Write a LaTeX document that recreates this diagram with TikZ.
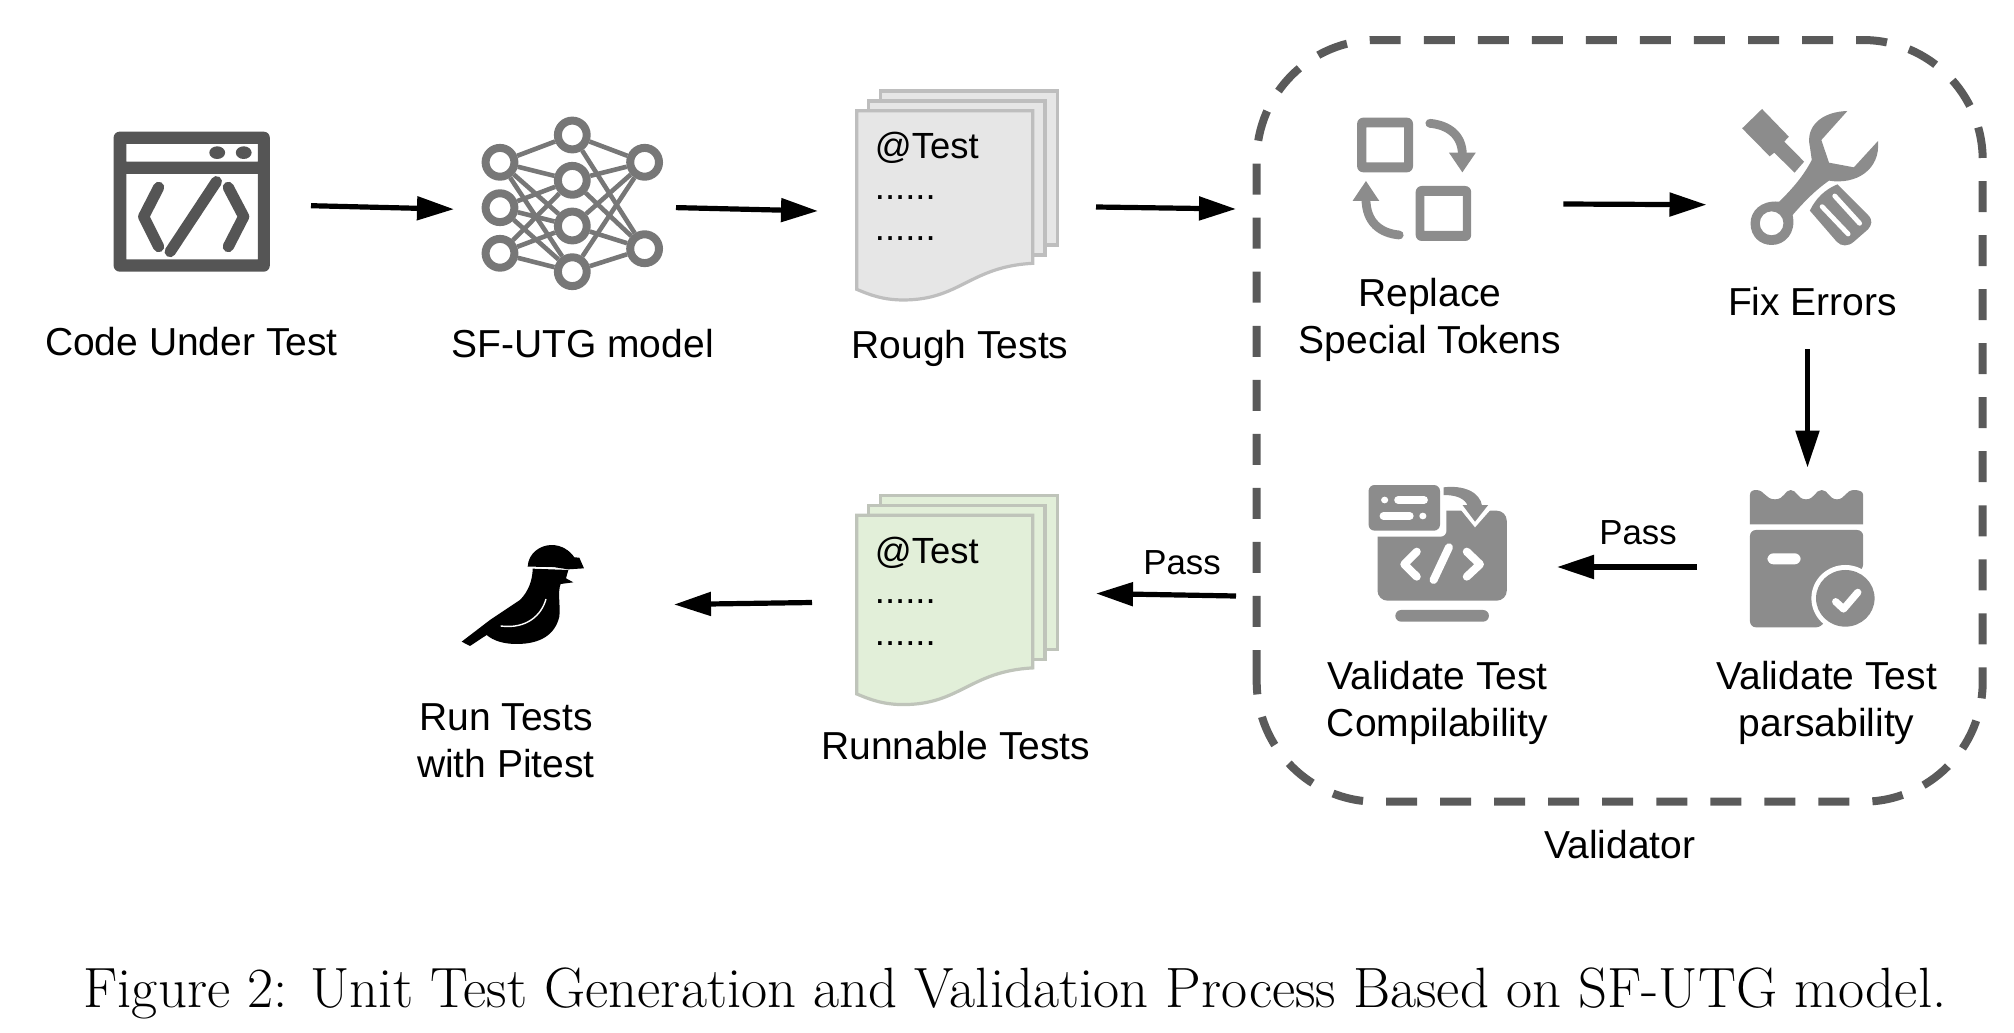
\documentclass[tikz,border=0pt]{standalone}
\usepackage{fontspec}
\setmainfont{Liberation Sans}
\newfontfamily\capfont{Latin Modern Roman}
\usetikzlibrary{arrows.meta,fit}
\definecolor{icondark}{HTML}{555555}
\definecolor{nngray}{HTML}{777777}
\definecolor{icongray}{HTML}{8C8C8C}
\definecolor{dashgray}{HTML}{5A5A5A}
\definecolor{pagegray}{HTML}{E6E6E6}
\definecolor{pageedge}{HTML}{BEBEBE}
\definecolor{pagegreen}{HTML}{E2EFD9}
\definecolor{pageedgeg}{HTML}{BFC4BA}
\tikzset{
  x=0.5pt,y=-0.5pt,
  port/.style={inner sep=0pt,outer sep=0pt,draw=none},
  flow/.style={line width=2.6pt,draw=black,-{Triangle[length=18.5pt,width=11.5pt]}},
  lab/.style={font=\fontsize{19.5}{23.5}\selectfont,align=center,inner sep=0pt,text=black},
  passlab/.style={font=\fontsize{17.4}{21}\selectfont,inner sep=0pt,text=black},
  doclab/.style={font=\fontsize{18.2}{22}\selectfont,anchor=base west,inner sep=0pt},
  neuron/.style={circle,draw=nngray,line width=4pt,minimum size=14.4pt,inner sep=0pt,fill=white},
  syn/.style={draw=nngray,line width=2.3pt},
  zoomA/.style={shift={(80,90)},xscale=0.3954,yscale=0.3333},
  zoomC/.style={shift={(1320,90)},xscale=0.3827,yscale=0.3333},
  zoomD/.style={shift={(1340,470)},xscale=0.3571,yscale=0.3333},
  third/.style={xscale=0.3333,yscale=0.3333},
}
\newcommand{\pagestack}[3]{%
  \begin{scope}[shift={(820,#1)},third,draw=#3,fill=#2,line width=1.6pt,line join=miter]
    \filldraw (182,63) rectangle (712,525);
    \filldraw (145,93) rectangle (675,555);
    \filldraw (110,122) -- (638,122) -- (638,580) .. controls (450,590) and (420,690) .. (250,690) .. controls (190,690) and (150,675) .. (110,658) -- cycle;
  \end{scope}}
\begin{document}
\begin{tikzpicture}
\useasboundingbox (0,0) rectangle (2014,1033);

% connection boxes round the icons
\node[port,fit={(113,140)(311,271.4)}] (code) {};
\node[port,fit={(454,120)(676,295.2)}] (nn) {};
\node[port,fit={(818,90)(1096,328)}] (rough) {};
\node[port,fit={(1350,110)(1563.4,298)}] (replace) {};
\node[port,fit={(1706.5,60)(1908.5,349.4)}] (fix) {};
\node[port,fit={(1697,467.6)(1918,666.4)}] (parse) {};
\node[port,fit={(1350,480)(1557,654)}] (compile) {};
\node[port,fit={(812,490)(1096,706)}] (runnable) {};
\node[port,fit={(460,530)(674,679)}] (bird) {};

% validator
\node[port,fit={(1256.7,40)(1982.7,801.7)}] (validator) {};
\draw[dashgray,line width=4pt,rounded corners=60pt,dash pattern=on 15.5pt off 11.52pt]
  ([yshift=-130.08pt]validator.west) -- (validator.north west) -- (validator.north east) -- (validator.south east) -- (validator.south west) -- ([yshift=-130.08pt]validator.west);
\coordinate (valin) at (1236,209);
\coordinate (valout) at (1236,596);

% code window icon
\begin{scope}[zoomA]
  \fill[icondark,rounded corners=3pt,even odd rule] (85,125) rectangle (480,545)
     (117,162) [sharp corners] rectangle (450,215) (117,252) rectangle (450,508);
  \fill[icondark] (347,188) ellipse (20 and 19) (414,188) ellipse (20 and 19);
  \draw[icondark,line width=5.6pt,line cap=round,line join=round] (199,292) -- (161,380) -- (199,470);
  \draw[icondark,line width=5.6pt,line cap=round,line join=round] (375,292) -- (414,380) -- (375,470);
  \draw[icondark,line width=5.6pt,line cap=round] (345,275) -- (228,485);
\end{scope}

% neural network icon
\node[neuron] (l1) at (500,162.3) {};
\node[neuron] (l2) at (500,207.7) {};
\node[neuron] (l3) at (500,253.3) {};
\node[neuron] (m1) at (572.3,135) {};
\node[neuron] (m2) at (572.3,180.3) {};
\node[neuron] (m3) at (572.3,226) {};
\node[neuron] (m4) at (572.3,271.7) {};
\node[neuron] (r1) at (644.6,162.3) {};
\node[neuron] (r2) at (644.6,248.7) {};
\foreach \a/\b in {l1/m1,l1/m2,l1/m3,l1/m4,l2/m2,l2/m3,l2/m4,l3/m2,l3/m3,l3/m4}{\draw[syn] (\a) -- (\b);}
\foreach \a in {m1,m2,m3,m4}\foreach \b in {r1,r2}{\draw[syn] (\a) -- (\b);}

% rough tests
\pagestack{70}{pagegray}{pageedge}
\node[doclab] (t1a) at (874.5,158.5) {@Test};
\node[doclab] (t1b) at (874.5,199) {......};
\node[doclab] (t1c) at (874.5,240.5) {......};

% replace icon
\begin{scope}[zoomC,icongray]
  \fill[rounded corners=3pt,even odd rule] (97,83) rectangle (243,247) (121,112) [sharp corners] rectangle (220,217);
  \fill[rounded corners=3pt,even odd rule] (250,288) rectangle (395,453) (273,318) [sharp corners] rectangle (373,423);
  \draw[line width=4.4pt,line cap=round] (287,100) .. controls (335,105) and (372,135) .. (372,195);
  \fill (337,188) -- (407,188) -- (372,247) -- cycle;
  \draw[line width=4.4pt,line cap=round] (207,435) .. controls (160,430) and (120,400) .. (120,325);
  \fill (85,333) -- (155,333) -- (120,273) -- cycle;
\end{scope}

% tools icon
\begin{scope}[zoomC,icongray]
  \fill (1155,57) -- (1225,140) -- (1213,155) -- (1265,215) -- (1240,248) -- (1187,188) -- (1175,199) -- (1103,115) -- cycle;
  \fill[even odd rule] (1378,63) .. controls (1310,65) and (1268,110) .. (1280,170) -- (1285,210) .. controls (1262,260) and (1235,295) .. (1200,335) .. controls (1150,330) and (1125,365) .. (1125,400) .. controls (1125,440) and (1150,465) .. (1180,465) .. controls (1215,465) and (1245,430) .. (1235,375) .. controls (1265,335) and (1295,300) .. (1330,272) .. controls (1400,285) and (1465,240) .. (1458,153) -- (1395,232) -- (1330,218) -- (1310,150) -- cycle
    (1180,400) ellipse (31 and 36);
  \fill (1352,283) -- (1432,375) .. controls (1445,390) and (1442,405) .. (1432,418) -- (1395,455) .. controls (1380,470) and (1362,470) .. (1350,455) -- (1280,362) .. controls (1295,325) and (1320,298) .. (1352,283) -- cycle;
  \draw[white,line width=2.4pt,line cap=round] (1345,318) -- (1410,400);
  \draw[white,line width=2.4pt,line cap=round] (1312,350) -- (1380,432);
\end{scope}

% compile icon
\begin{scope}[zoomD,icongray]
  \fill[rounded corners=5pt] (105,122) rectangle (467,392);
  \fill[white,rounded corners=3pt] (60,90) rectangle (298,200);
  \fill[white] (335,115) -- (378,172) -- (425,115) -- cycle;
  \fill[rounded corners=3pt] (80,45) rectangle (280,182);
  \fill[white] (125,90) circle (10) (232,138) circle (10);
  \draw[white,line width=4pt,line cap=round] (163,90) -- (235,90) (122,138) -- (195,138);
  \draw[white,line width=4pt,line cap=round,line join=round] (215,245) -- (180,283) -- (215,320);
  \draw[white,line width=4pt,line cap=round] (305,232) -- (262,330);
  \draw[white,line width=4pt,line cap=round,line join=round] (355,245) -- (392,283) -- (355,320);
  \fill[rounded corners=2.9pt] (155,420) rectangle (417,455);
  \fill (290,52) .. controls (345,45) and (392,65) .. (398,108) -- (358,108) .. controls (350,85) and (325,75) .. (290,75) -- cycle;
  \fill (343,105) -- (415,105) -- (378,155) -- cycle;
\end{scope}

% parsability icon
\begin{scope}[zoomD,icongray]
  \fill (1148,163) -- (1148,75) .. controls (1148,65) and (1155,60) .. (1165,60) .. controls (1190,60) and (1190,88) .. (1218,88) .. controls (1245,88) and (1245,60) .. (1262,60) .. controls (1280,60) and (1280,88) .. (1305,88) .. controls (1330,88) and (1330,60) .. (1349,60) .. controls (1368,60) and (1368,88) .. (1392,88) .. controls (1415,88) and (1415,60) .. (1440,60) .. controls (1455,60) and (1465,65) .. (1465,75) -- (1465,163) -- cycle;
  \fill[rounded corners=3pt] (1148,180) -- (1465,180) -- (1465,300) -- (1400,330) -- (1350,472) -- (1148,472) -- cycle;
  \fill[white] (1415,385) ellipse (95 and 100);
  \fill (1415,385) ellipse (82 and 85);
  \draw[white,line width=3.6pt,line cap=round,line join=round] (1388,395) -- (1410,417) -- (1450,367);
  \fill[white,rounded corners=3pt] (1197,250) rectangle (1290,283);
\end{scope}

% runnable tests
\pagestack{474.6}{pagegreen}{pageedgeg}
\node[doclab] (t2a) at (874.5,563) {@Test};
\node[doclab] (t2b) at (874.5,603.5) {......};
\node[doclab] (t2c) at (874.5,645) {......};

% bird icon
\begin{scope}[shift={(440,520)},third]
  \fill[black] (263,140) .. controls (265,100) and (300,75) .. (335,75) .. controls (365,75) and (390,92) .. (403,112) -- (418,113) -- (432,145) -- (385,148) -- (345,142) -- (280,140) -- cycle;
  \fill[black] (278,146) -- (385,150) -- (378,175) -- (400,187) -- (362,192) .. controls (352,215) and (362,260) .. (358,290) .. controls (345,345) and (300,372) .. (230,372) .. controls (190,372) and (160,362) .. (140,345) -- (90,378) -- (65,365) -- (150,300) -- (240,240) .. controls (265,215) and (278,180) .. (278,146) -- cycle;
  \draw[white,line width=0.6pt] (285,143) -- (345,144);
  \draw[white,line width=0.7pt] (318,237) .. controls (305,285) and (260,328) .. (182,318);
\end{scope}

% connectors
\draw[flow] (code.east) -- ([yshift=-0.8pt]nn.west);
\draw[flow] (nn.east) -- ([yshift=-1pt]rough.west);
\draw[flow] ([yshift=1pt]rough.east) -- (valin);
\draw[flow] (replace.east) -- (fix.west);
\draw[flow] (fix.south) -- (parse.north);
\draw[flow] (parse.west) -- (compile.east);
\draw[flow] (valout) -- ([yshift=2.25pt]runnable.east);
\draw[flow] ([yshift=-2.25pt]runnable.west) -- (bird.east);

% labels
\node[lab] (l-code) at (191.4,342) {Code Under Test};
\node[lab] (l-nn) at (582.6,344) {SF-UTG model};
\node[lab] (l-rough) at (960,348) {Rough Tests};
\node[lab] (l-replace) at (1430,320) {Replace\\Special Tokens};
\node[lab] (l-fix) at (1812.6,302) {Fix Errors};
\node[lab] (l-parse) at (1826.7,702.5) {Validate Test\\parsability};
\node[lab] (l-compile) at (1437.5,702.5) {Validate Test\\Compilability};
\node[passlab] (l-pass1) at (1638,533) {Pass};
\node[passlab] (l-pass2) at (1182,563) {Pass};
\node[lab] (l-runnable) at (955.7,745.5) {Runnable Tests};
\node[lab] (l-bird) at (506,741) {Run Tests\\with Pitest};
\node[lab] (l-valid) at (1620,844.5) {Validator};
\node[inner sep=0pt,font=\capfont\fontsize{28.4}{32}\selectfont] (caption) at (1015,993) {Figure 2: Unit Test Generation and Validation Process Based on SF-UTG model.};
\end{tikzpicture}
\end{document}
